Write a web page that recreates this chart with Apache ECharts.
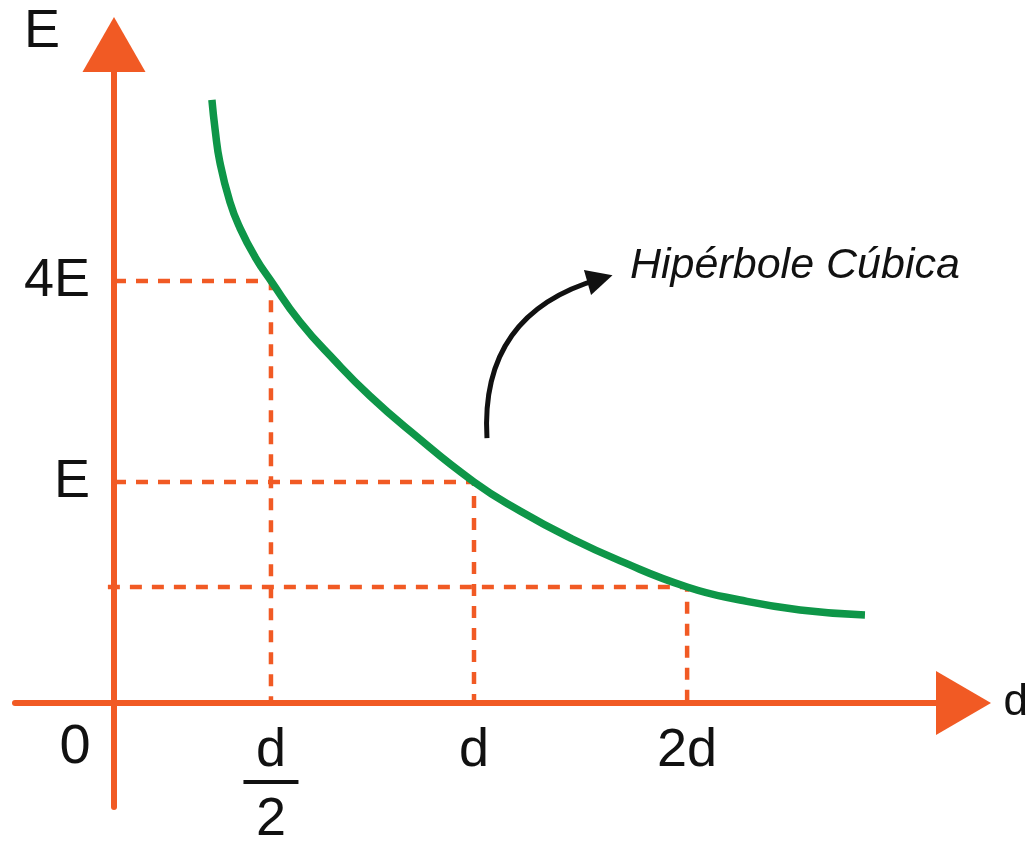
<!DOCTYPE html>
<html>
<head>
<meta charset="utf-8">
<title>Hipérbole Cúbica</title>
<script src="https://cdn.jsdelivr.net/npm/echarts@6/dist/echarts.min.js"></script>
<style>
  html, body { margin: 0; padding: 0; background: #fff; }
  #chart { width: 1034px; height: 844px; }
</style>
</head>
<body>
<div id="chart"></div>
<script>
  // distance in units of d, field in units of E (the sketch is not to scale)
  var curveX = [0.272, 0.281, 0.294, 0.322, 0.350, 0.392, 0.436, 0.517, 0.614, 0.711, 0.822, 1.000,
                1.128, 1.267, 1.406, 1.592, 1.739, 1.906, 2.086];
  var curveY = [2.729, 2.593, 2.448, 2.267, 2.149, 2.018, 1.910, 1.724, 1.548, 1.389, 1.231, 1.000,
                0.869, 0.747, 0.643, 0.525, 0.466, 0.421, 0.398];

  var xTickValues = [0.436, 1, 1.592];
  var xTickLabels = ['d/2', 'd', '2d'];
  var yTickValues = [1, 1.909];
  var yTickLabels = ['E', '4E'];

  // dashed guides: start on the E axis, run to the curve, drop to the d axis
  var guideStart = [0, 0, -0.017];
  var guideX = [0.436, 1, 1.592];
  var guideY = [1.909, 1, 0.525];

  // curved pointer to the caption
  var arrowFrom = [1.036, 1.199];
  var arrowTo = [1.35, 1.919];

  var ORANGE = '#f15a24';
  var GREEN = '#0e9648';
  var INK = '#111';
  var FONT = '"Liberation Sans", Arial, sans-serif';

  function pick(values, labels, v) {
    for (var i = 0; i < values.length; i++) {
      if (Math.abs(values[i] - v) < 1e-6) return labels[i];
    }
    return '';
  }

  var guideSeries = guideX.map(function (gx, i) {
    return {
      type: 'line',
      silent: true,
      symbol: 'none',
      z: 2,
      lineStyle: { color: ORANGE, width: 4.5, type: [12, 10] },
      data: [[guideStart[i], guideY[i]], [gx, guideY[i]], [gx, 0]]
    };
  });

  var chart = echarts.init(document.getElementById('chart'));
  var option = {
    animation: false,
    backgroundColor: '#fff',
    // axes cross at the origin; they are shifted off the grid edges with offset
    grid: { left: 15, right: 70.5, top: 44.5, bottom: 37, containLabel: false, outerBoundsMode: 'none' },
    xAxis: {
      type: 'value',
      min: -0.275,
      max: 2.35972,
      offset: -104,
      name: 'd',
      nameLocation: 'end',
      nameGap: 40,
      nameTextStyle: { fontFamily: FONT, fontSize: 44, color: INK, align: 'left', verticalAlign: 'middle', padding: [8, 0, 0, 0] },
      splitLine: { show: false },
      axisTick: { show: false },
      axisLine: {
        onZero: false,
        symbol: ['none', 'triangle'],
        symbolSize: [64, 55],
        lineStyle: { color: ORANGE, width: 6 }
      },
      axisLabel: {
        customValues: xTickValues,
        margin: 21,
        color: INK,
        fontFamily: FONT,
        fontSize: 54,
        formatter: function (v) {
          var s = pick(xTickValues, xTickLabels, v);
          if (s.indexOf('/') > 0) {
            var p = s.split('/');
            return '{num|' + p[0] + '}\n{bar| }\n{den|' + p[1] + '}';
          }
          return s;
        },
        rich: {
          num: { fontFamily: FONT, fontSize: 54, lineHeight: 54, color: INK },
          bar: { width: 55, height: 4, lineHeight: 8, backgroundColor: INK, fontSize: 4 },
          den: { fontFamily: FONT, fontSize: 54, lineHeight: 68, color: INK }
        }
      }
    },
    yAxis: {
      type: 'value',
      min: -0.47059,
      max: 2.97964,
      offset: -99,
      name: 'E',
      nameLocation: 'end',
      nameGap: 12,
      nameTextStyle: { fontFamily: FONT, fontSize: 54, color: INK, align: 'right', verticalAlign: 'middle', padding: [0, 54, 0, 0] },
      splitLine: { show: false },
      axisTick: { show: false },
      axisLine: {
        onZero: false,
        symbol: ['none', 'triangle'],
        symbolSize: [63, 55],
        lineStyle: { color: ORANGE, width: 6 }
      },
      axisLabel: {
        customValues: yTickValues,
        margin: 24,
        color: INK,
        fontFamily: FONT,
        fontSize: 54,
        formatter: function (v) {
          return pick(yTickValues, yTickLabels, v);
        }
      }
    },
    graphic: [
      {
        type: 'text',
        silent: true,
        style: { text: '0', x: 75, y: 748, fill: INK, font: '56px ' + FONT, textAlign: 'center', textVerticalAlign: 'middle' }
      },
      {
        type: 'text',
        silent: true,
        style: { text: 'Hipérbole Cúbica', x: 630, y: 266, fill: INK, font: 'italic 43px ' + FONT, textAlign: 'left', textVerticalAlign: 'middle' }
      }
    ],
    series: guideSeries.concat([
      {
        name: 'E(d)',
        type: 'line',
        silent: true,
        symbol: 'none',
        smooth: 0.5,
        z: 3,
        lineStyle: { color: GREEN, width: 7.5, cap: 'butt' },
        data: curveX.map(function (x, i) { return [x, curveY[i]]; })
      },
      {
        type: 'lines',
        coordinateSystem: 'cartesian2d',
        silent: true,
        z: 4,
        symbol: ['none', 'triangle'],
        symbolSize: [24, 26],
        lineStyle: { color: INK, width: 5, curveness: 0.4, opacity: 1 },
        data: [{ coords: [arrowFrom, arrowTo] }]
      }
    ])
  };
  chart.setOption(option);
</script>
</body>
</html>
